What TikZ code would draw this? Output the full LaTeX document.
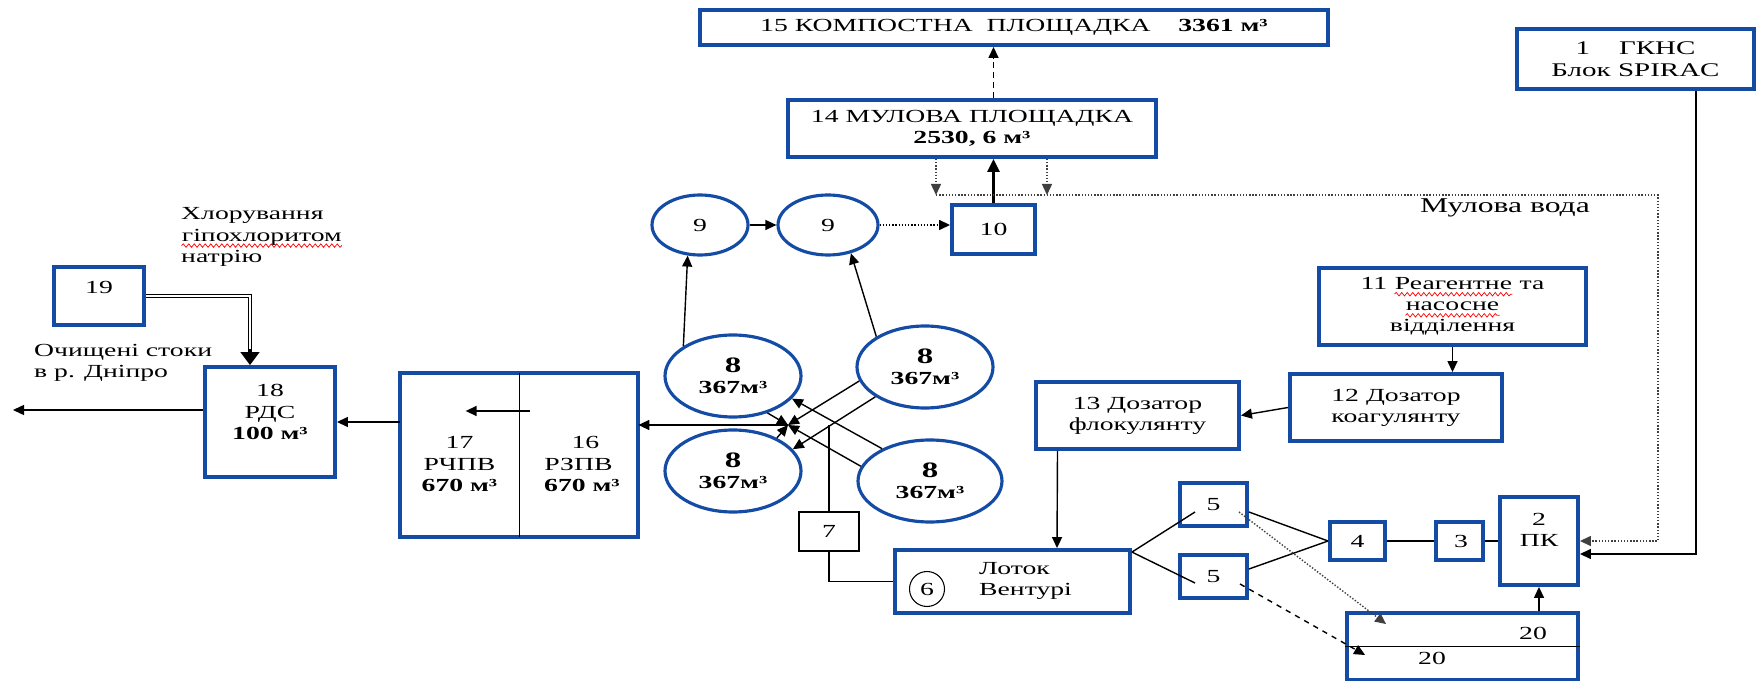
\documentclass[tikz,border=0pt]{standalone}
\usepackage{fontspec}
\setmainfont{Liberation Serif}[FakeStretch=1.5]
\usepackage{tikz}
\usetikzlibrary{arrows.meta, shapes.geometric, decorations.pathmorphing}

\definecolor{boxblue}{RGB}{20,75,165}

% red wavy underline under a word
\newcommand\spellmark[1]{\tikz[baseline=(w.base)]{%
  \node[inner sep=0pt, minimum size=0pt, draw=none, anchor=base, align=left] (w) {#1};
  \draw[red, line width=0.4pt, decorate, decoration={snake, amplitude=0.35mm, segment length=1.1mm}]
    ([yshift=-0.9mm]w.base west) -- ([yshift=-0.9mm]w.base east);}}

\begin{document}
\begin{tikzpicture}[x=0.2mm, y=-0.2mm, font=\fontsize{10.5}{12}\selectfont,
  blk/.style={rectangle, draw=boxblue, line width=2.2pt, inner sep=0pt, align=center},
  tank/.style={ellipse, draw=boxblue, line width=1.8pt, inner sep=0pt, align=center,
    minimum width=27.2mm, minimum height=16.4mm},
  flow/.style={-{Triangle[length=2.2mm,width=2mm]}, line width=0.8pt},
  pipe/.style={line width=0.8pt},
  slurry/.style={line width=0.8pt, densely dotted, black!75}]
\useasboundingbox (0,0) rectangle (1757,681);

% sludge line
\node[blk, minimum width=125.6mm, minimum height=7mm] (komp) at (1014,27.5)
  {15 КОМПОСТНА\ \ ПЛОЩАДКА\ \ \ \ \textbf{3361 м³}};
\node[blk, minimum width=73.6mm, minimum height=11.4mm] (mul) at (972,128.5)
  {14 МУЛОВА ПЛОЩАДКА\\\textbf{2530, 6 м³}};
\node[blk, minimum width=16.6mm, minimum height=9.8mm] (b10) at (993.5,229.5) {10};
\node[tank, minimum width=19.2mm, minimum height=12mm] (t9a) at (700,225) {9};
\node[tank, minimum width=20mm, minimum height=12mm] (t9b) at (828,225) {9};

% clarifiers
\node[tank] (t8a) at (733,376) {{\fontsize{12.5}{14}\selectfont\bfseries 8}\\\textbf{367м³}};
\node[tank] (t8b) at (925,367) {{\fontsize{12.5}{14}\selectfont\bfseries 8}\\\textbf{367м³}};
\node[tank] (t8c) at (733,471) {{\fontsize{12.5}{14}\selectfont\bfseries 8}\\\textbf{367м³}};
\node[tank, minimum width=28.8mm] (t8d) at (930,481) {{\fontsize{12.5}{14}\selectfont\bfseries 8}\\\textbf{367м³}};
\coordinate (hub) at (788,425);
\node[draw, line width=0.6pt, minimum width=12mm, minimum height=7.8mm] (b7) at (829,531.5) {7};

% clean water tanks
\node[minimum width=23.8mm, minimum height=32.8mm,
  label={[align=center, yshift=-1.8mm]center:17\\РЧПВ\\\textbf{670 м³}}] (rchpv) at (459.5,455) {};
\node[minimum width=23.8mm, minimum height=32.8mm,
  label={[align=center, yshift=-1.8mm]center:\ \ 16\\РЗПВ\\\ \textbf{670 м³}}] (rzpv) at (578.5,455) {};
\draw[boxblue, line width=2.2pt] (rchpv.north west) rectangle (rzpv.south east);
\draw[line width=0.6pt] (rchpv.north east) -- (rchpv.south east);
\node[blk, minimum width=26mm, minimum height=22mm,
  label={[align=center, yshift=2mm]center:18\\РДС\\\textbf{100 м³}}] (rds) at (270,422) {};
\node[blk, minimum width=18mm, minimum height=11.6mm,
  label={[yshift=1.8mm]center:19}] (b19) at (99,296) {};
\node[anchor=west, align=left] (chlor) at (175,237)
  {Хлорування\\\spellmark{гіпохлоритом}\\натрію};
\node[anchor=west, align=left] (outlet) at (28,363) {Очищені стоки\\в р. Дніпро};
\coordinate (river) at (13,410);

% intake and reagents
\node[blk, minimum width=47.4mm, minimum height=12mm, font=\fontsize{11}{12.5}\selectfont]
  (gkns) at (1635.5,59) {1\ \ \ \ ГКНС\\Блок SPIRAC};
\node[blk, minimum width=53.4mm, minimum height=15.4mm] (reag) at (1452.5,306.5)
  {11 \spellmark{Реагентне} та\\\spellmark{насосне}\\відділення};
\node[blk, minimum width=42.4mm, minimum height=13.4mm] (coag) at (1396,407.5)
  {12 Дозатор\\коагулянту};
\node[blk, minimum width=40.6mm, minimum height=13.4mm] (floc) at (1137.5,415.5)
  {13 Дозатор\\флокулянту};
\node[blk, minimum width=47mm, minimum height=12.6mm] (lotok) at (1012.5,581.5) {};
\node[draw, circle, line width=0.6pt, minimum size=7mm, inner sep=0pt] (c6) at (927,589) {6};
\node[anchor=west, align=left] (venturi) at (973,581) {Лоток\\Вентурі};
\node[blk, minimum width=13.4mm, minimum height=8.6mm] (b5a) at (1213.5,504.5) {5};
\node[blk, minimum width=13.4mm, minimum height=8.6mm] (b5b) at (1213.5,576.5) {5};
\node[blk, minimum width=11mm, minimum height=7.6mm] (b4) at (1357.5,541) {4};
\node[blk, minimum width=9.4mm, minimum height=7.6mm] (b3) at (1459.5,541) {\,3};
\node[blk, minimum width=15.6mm, minimum height=17.6mm,
  label={[align=center, yshift=2.2mm]center:2\\ПК}] (pk) at (1539,541) {};
\node[blk, minimum width=46.2mm, minimum height=13.4mm,
  label={[xshift=14.1mm, yshift=2.7mm]center:20},
  label={[xshift=-6.1mm, yshift=-2.3mm]center:20}] (b20) at (1462.5,646.5) {};
\draw[line width=0.6pt] (b20.west) -- (b20.east);

% water line
\draw[flow] ([xshift=12.1mm]gkns.south) |- ([yshift=-2.6mm]pk.east);
\draw[flow] (b20.north -| pk) -- (pk.south);
\draw[pipe] (b3.east) -- (pk.west);
\draw[pipe] (b4.east) -- (b3.west);
\draw[pipe] ([yshift=-1.5mm]b5a.east) -- (b4.west);
\draw[pipe] ([yshift=1.5mm]b5b.east) -- (b4.west);
\draw[pipe] ([yshift=-0.8mm]lotok.north east) -- ([xshift=-3.7mm,yshift=-1.5mm]b5a.center);
\draw[pipe] ([yshift=-0.8mm]lotok.north east) -- ([xshift=-3.7mm,yshift=-1.3mm]b5b.center);
\draw[flow, slurry] ([xshift=5.1mm,yshift=-1.5mm]b5a.center) -- ([xshift=8.2mm,yshift=-2.6mm]b20.north west);
\draw[flow, dashed] ([xshift=5.3mm,yshift=-1.5mm]b5b.center) -- ([xshift=4mm,yshift=-1.7mm]b20.west);
\draw[flow] (reag) -- (reag |- coag.north);
\draw[flow] (coag.west) -- (floc.east);
\draw[flow] ([xshift=-16mm]floc.south) -- ([xshift=8.9mm]lotok.north);
\draw[pipe] (b7) |- (lotok.west);
\draw[pipe] (b7) -- (b7 |- hub);

% clarifiers to the hub and across
\draw[flow] (t8a.313) -- (hub);
\draw[flow] (t8c.37) -- (hub);
\draw[flow] (t8b.192) -- (hub);
\draw[flow] (t8d.168) -- (hub);
\draw[flow, {Triangle[length=2.2mm,width=2mm]}-] (t8c.20) -- (t8b.211);
\draw[flow, {Triangle[length=2.2mm,width=2mm]}-] (t8a.339) -- (t8d.146);
\draw[flow] (hub) -- (hub -| rzpv.east);
\draw[flow] ([xshift=2.2mm,yshift=8.8mm]rzpv.west) -- ([xshift=-10.6mm,yshift=8.8mm]rzpv.west);
\draw[flow] (rchpv.west |- rds) -- (rds);
\draw[flow] (rds.west |- river) -- (river);

% chlorination, double pipe
\draw[double, double distance=1.5pt, line width=0.6pt]
  (b19.east) -| ([xshift=-4mm,yshift=2.6mm]rds.north);
% makes the arrow head
\draw[-{Triangle[length=2.6mm,width=3.8mm]}, line width=0.8pt]
  ([xshift=-4mm,yshift=3.2mm]rds.north) -- ([xshift=-4mm]rds.north);

% sludge
\draw[flow] (t8a.149) -- (t9a.248);
\draw[flow] (t8b.148) -- (t9b.309);
\draw[flow] (t9a) -- (t9b);
\draw[flow, densely dotted] (t9b.east) -- (t9b.east -| b10.west);
\draw[-{Triangle[length=2.6mm,width=2.4mm]}, line width=1.6pt] (b10) -- (b10 |- mul.south);
\draw[flow, dash pattern=on 1.2mm off 0.8mm] (b10 |- mul.north) -- (b10 |- komp.south);
\coordinate (d1) at (936,195);
\coordinate (d2) at (1047,195);
\coordinate (mw) at (1658,195);
\draw[flow, slurry] (mul.south -| d1) -- (d1);
\draw[flow, slurry] (mul.south -| d2) -- (d2);
\draw[flow, slurry] (d1) -- (mw) |- (pk.east);
\node[font=\fontsize{12}{14}\selectfont] (mwlabel) at (1505,208) {Мулова вода};
\end{tikzpicture}
\end{document}
